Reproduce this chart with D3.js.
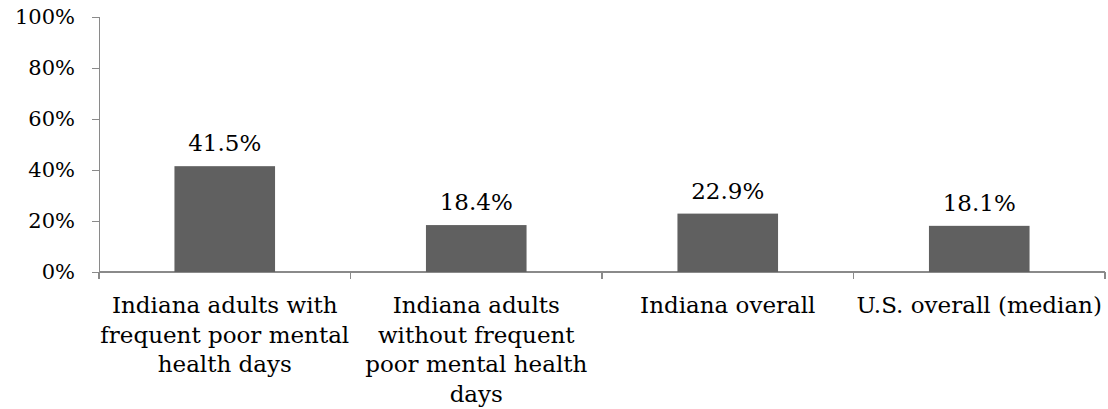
<!DOCTYPE html>
<meta charset="utf-8">
<head>
    <title></title>
    <script src="https://cdn.jsdelivr.net/npm/d3@7/dist/d3.min.js"></script>
</head>
<style>
    body{ margin:0; background:#fff; }
    text{ font-family: "DejaVu Serif", Georgia, serif; fill:#000; }
    .axis path, .axis line{ stroke:#8a8a8a; stroke-width:1.5px; shape-rendering:crispEdges; }
</style>
<svg width="1108" height="409"></svg>
<script>
    // data
    var categories = [
        ['Indiana adults with', 'frequent poor mental', 'health days'],
        ['Indiana adults', 'without frequent', 'poor mental health', 'days'],
        ['Indiana overall'],
        ['U.S. overall (median)']
    ];
    var values = [41.5, 18.4, 22.9, 18.1];
    var yTicks = [0, 20, 40, 60, 80, 100];

    var plot = {left: 99, right: 1105, top: 17, bottom: 272},
        fontSize = '23px';

    var svg = d3.select('svg');
    var idx = d3.range(values.length);

    var x = d3.scaleBand().domain(idx).range([plot.left, plot.right]).padding(0);
    var y = d3.scaleLinear().domain([0, 100]).range([plot.bottom, plot.top]);

    // y axis
    svg.append('g')
        .attr('class', 'axis')
        .attr('transform', 'translate(' + plot.left + ',0)')
        .call(d3.axisLeft(y).tickValues(yTicks).tickSize(7).tickSizeOuter(7).tickPadding(17).tickFormat(function(d){ return d + '%'; }))
        .selectAll('text')
        .style('font-size', '21px')
        .attr('fill', '#000');

    // x axis: line plus ticks at the category boundaries
    var gx = svg.append('g').attr('class', 'axis');
    gx.append('line')
        .attr('x1', plot.left).attr('x2', plot.right)
        .attr('y1', y(0)).attr('y2', y(0));
    var edges = idx.map(function(i){ return x(i); }).concat([x(idx.length - 1) + x.bandwidth()]);
    gx.selectAll('.tk').data(edges).enter().append('line')
        .attr('class', 'tk')
        .attr('x1', function(d){ return d; }).attr('x2', function(d){ return d; })
        .attr('y1', y(0)).attr('y2', y(0) + 7);

    var barW = x.bandwidth() * 0.4;

    svg.selectAll('.bar').data(values).enter().append('rect')
        .attr('class', 'bar')
        .attr('x', function(d, i){ return x(i) + (x.bandwidth() - barW) / 2; })
        .attr('y', function(d){ return y(d); })
        .attr('width', barW)
        .attr('height', function(d){ return y(0) - y(d); })
        .style('fill', '#606060');

    svg.selectAll('.val').data(values).enter().append('text')
        .attr('class', 'val')
        .attr('x', function(d, i){ return x(i) + x.bandwidth() / 2; })
        .attr('y', function(d){ return y(d) - 15; })
        .attr('text-anchor', 'middle')
        .style('font-size', fontSize)
        .text(function(d){ return d.toFixed(1) + '%'; });

    categories.forEach(function(lines, i){
        var t = svg.append('text')
            .attr('x', x(i) + x.bandwidth() / 2)
            .attr('y', 313)
            .attr('text-anchor', 'middle')
            .style('font-size', fontSize);
        lines.forEach(function(l, j){
            t.append('tspan')
                .attr('x', x(i) + x.bandwidth() / 2)
                .attr('dy', j === 0 ? 0 : 29.5)
                .text(l);
        });
    });
</script>
